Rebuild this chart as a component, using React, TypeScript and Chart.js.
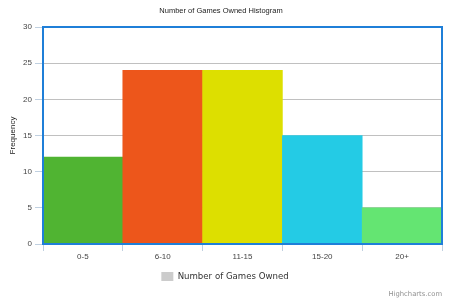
import React, { useEffect, useRef } from "react";
import { Chart, registerables } from "chart.js";

Chart.register(...registerables);

const categories = ["0-5", "6-10", "11-15", "15-20", "20+"];
const frequencies = [12, 24, 24, 15, 5];
const barColors = ["#50B432", "#ED561B", "#DDDF00", "#24CBE5", "#64E572"];
const seriesName = "Number of Games Owned";
const titleText = "Number of Games Owned Histogram";
const yTitle = "Frequency";
const creditText = "Highcharts.com";

const plotBorder = {
  id: "plotBorder",
  afterLayout(chart: any) {
    if (chart.legend) {
      chart.legend.left += 4;
      chart.legend.right += 4;
    }
  },
  afterDatasetsDraw(chart: any) {
    const { ctx, chartArea } = chart;
    ctx.save();
    ctx.strokeStyle = "#1F7FD8";
    ctx.lineWidth = 2;
    ctx.strokeRect(chartArea.left, chartArea.top, chartArea.right - chartArea.left, chartArea.bottom - chartArea.top);
    ctx.restore();
  },
};

const credits = {
  id: "credits",
  afterDraw(chart: any) {
    const { ctx, width, height } = chart;
    ctx.save();
    ctx.font = "6.8px 'DejaVu Sans'";
    ctx.fillStyle = "#909090";
    ctx.textAlign = "right";
    ctx.textBaseline = "middle";
    ctx.fillText(creditText, width - 8, height - 6);
    ctx.restore();
  },
};

export default function App() {
  const ref = useRef<HTMLCanvasElement>(null);
  useEffect(() => {
    const chart = new Chart(ref.current!, {
      type: "bar",
      data: {
        labels: categories,
        datasets: [
          {
            label: seriesName,
            data: frequencies,
            backgroundColor: barColors,
            borderWidth: 0,
            categoryPercentage: 1,
            barPercentage: 1,
          },
        ],
      },
      options: {
        responsive: false,
        animation: false,
        layout: { padding: { left: 0, right: 8, top: 0, bottom: 9 } },
        plugins: {
          title: {
            display: true,
            text: titleText,
            color: "#222",
            font: { family: "'Liberation Sans'", size: 7.5, weight: "normal" },
            padding: { top: 6, bottom: 12 },
          },
          legend: {
            position: "bottom",
            labels: {
              font: { family: "'DejaVu Sans'", size: 8.6 },
              color: "#333",
              boxWidth: 12,
              boxHeight: 9,
              padding: 8,
              generateLabels: () => [
                { text: seriesName, fillStyle: "#CCCCCC", strokeStyle: "#CCCCCC", lineWidth: 0, hidden: false, fontColor: "#333" } as any,
              ],
            },
          },
          tooltip: { enabled: false },
        },
        scales: {
          x: {
            grid: {
              offset: true,
              drawOnChartArea: false,
              drawTicks: true,
              tickLength: 7,
              tickColor: "#C0D0E0",
            },
            border: { color: "#C0D0E0" },
            ticks: {
              color: "#444",
              font: { family: "'Liberation Sans'", size: 8 },
              padding: 1,
            },
            afterFit(scale: any) {
              scale.height = 20;
            },
          },
          y: {
            min: 0,
            max: 30,
            ticks: {
              stepSize: 5,
              color: "#444",
              font: { family: "'Liberation Sans'", size: 8 },
              padding: 3,
            },
            grid: {
              color: "#C0C0C0",
              tickColor: "#C0D0E0",
              tickLength: 8,
            },
            border: { display: false },
            title: {
              display: true,
              text: yTitle,
              color: "#222",
              font: { family: "'Liberation Sans'", size: 8 },
              padding: { top: 8, bottom: 0 },
            },
            afterFit(scale: any) {
              scale.width = 43;
            },
          },
        },
      },
      plugins: [plotBorder, credits],
    });
    return () => chart.destroy();
  }, []);
  return (
    <div style={{ position: "fixed", left: 0, top: 0, width: 450, height: 300, background: "#fff" }}>
      <canvas ref={ref} width={450} height={300} />
    </div>
  );
}
